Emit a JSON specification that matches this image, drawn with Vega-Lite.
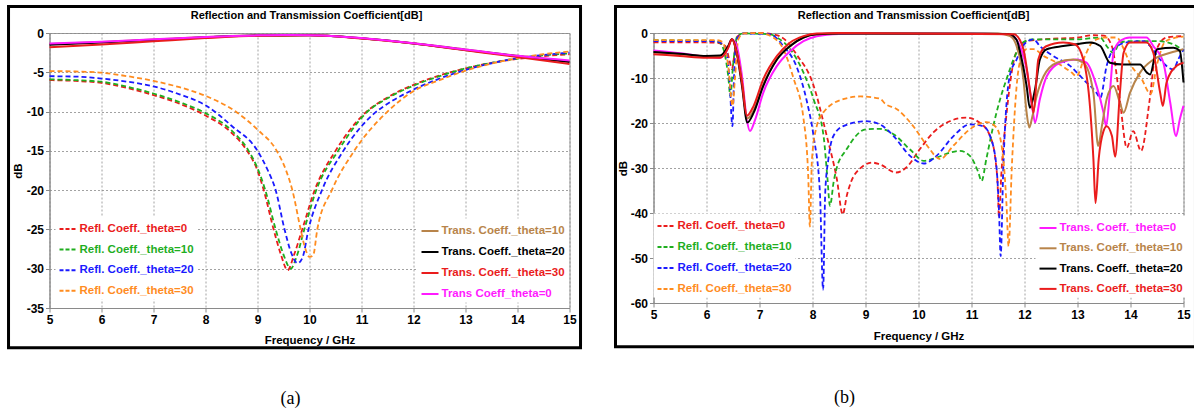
{
 "$schema": "https://vega.github.io/schema/vega-lite/v6.json",
 "background": "white",
 "padding": {"left": 6.5, "top": 4, "right": 0, "bottom": 0},
 "spacing": 29,
 "config": {
  "view": {"stroke": "#9a9a9a", "strokeWidth": 1},
  "axis": {"labelFont": "Liberation Sans", "labelFontWeight": "bold", "labelFontSize": 12, "labelColor": "#000", "titleFont": "Liberation Sans", "titleFontSize": 11.5, "titleFontWeight": "bold", "titleColor": "#000", "gridColor": "#8a8a8a", "gridDash": [2, 2], "gridWidth": 0.8, "domainColor": "#8a8a8a", "tickColor": "#8a8a8a", "tickSize": 4, "labelPadding": 2, "labelFlush": false, "labelOverlap": false},
  "legend": {"labelFont": "Liberation Sans", "labelFontSize": 11.5, "labelFontWeight": "bold", "symbolType": "stroke", "symbolSize": 289, "symbolStrokeWidth": 2, "labelOffset": 2, "padding": 3, "fillColor": "#ffffff", "labelLimit": 400},
  "title": {"font": "Liberation Sans", "fontSize": 11, "fontWeight": "bold", "color": "#000"},
  "line": {"interpolate": "monotone"}
 },
 "datasets": {
  "a_refl": [
   {"s":"Refl. Coeff._theta=0","f":5,"v":-6.0},{"s":"Refl. Coeff._theta=0","f":5.5,"v":-6.1},{"s":"Refl. Coeff._theta=0","f":6,"v":-6.35},{"s":"Refl. Coeff._theta=0","f":6.5,"v":-7.0},{"s":"Refl. Coeff._theta=0","f":7,"v":-7.9},{"s":"Refl. Coeff._theta=0","f":7.5,"v":-9.0},{"s":"Refl. Coeff._theta=0","f":8,"v":-10.5},{"s":"Refl. Coeff._theta=0","f":8.5,"v":-12.7},{"s":"Refl. Coeff._theta=0","f":8.8,"v":-15},{"s":"Refl. Coeff._theta=0","f":9,"v":-17.5},{"s":"Refl. Coeff._theta=0","f":9.12,"v":-20},{"s":"Refl. Coeff._theta=0","f":9.31,"v":-25},{"s":"Refl. Coeff._theta=0","f":9.45,"v":-28.2},{"s":"Refl. Coeff._theta=0","f":9.58,"v":-30.2},{"s":"Refl. Coeff._theta=0","f":9.7,"v":-28.3},{"s":"Refl. Coeff._theta=0","f":9.86,"v":-25},{"s":"Refl. Coeff._theta=0","f":10.1,"v":-20},{"s":"Refl. Coeff._theta=0","f":10.5,"v":-15},{"s":"Refl. Coeff._theta=0","f":11.05,"v":-10.3},{"s":"Refl. Coeff._theta=0","f":11.5,"v":-8.2},{"s":"Refl. Coeff._theta=0","f":12,"v":-6.6},{"s":"Refl. Coeff._theta=0","f":12.5,"v":-5.4},{"s":"Refl. Coeff._theta=0","f":13,"v":-4.5},{"s":"Refl. Coeff._theta=0","f":13.5,"v":-3.8},{"s":"Refl. Coeff._theta=0","f":14,"v":-3.3},{"s":"Refl. Coeff._theta=0","f":14.5,"v":-2.95},{"s":"Refl. Coeff._theta=0","f":15,"v":-2.7},
   {"s":"Refl. Coeff._theta=10","f":5,"v":-5.9},{"s":"Refl. Coeff._theta=10","f":5.5,"v":-6.0},{"s":"Refl. Coeff._theta=10","f":6,"v":-6.2},{"s":"Refl. Coeff._theta=10","f":6.5,"v":-6.85},{"s":"Refl. Coeff._theta=10","f":7,"v":-7.7},{"s":"Refl. Coeff._theta=10","f":7.5,"v":-8.8},{"s":"Refl. Coeff._theta=10","f":8,"v":-10.2},{"s":"Refl. Coeff._theta=10","f":8.5,"v":-12.4},{"s":"Refl. Coeff._theta=10","f":8.83,"v":-15},{"s":"Refl. Coeff._theta=10","f":9,"v":-17.2},{"s":"Refl. Coeff._theta=10","f":9.15,"v":-20},{"s":"Refl. Coeff._theta=10","f":9.35,"v":-25},{"s":"Refl. Coeff._theta=10","f":9.5,"v":-28.2},{"s":"Refl. Coeff._theta=10","f":9.64,"v":-30.0},{"s":"Refl. Coeff._theta=10","f":9.75,"v":-28.5},{"s":"Refl. Coeff._theta=10","f":9.9,"v":-25},{"s":"Refl. Coeff._theta=10","f":10.13,"v":-20},{"s":"Refl. Coeff._theta=10","f":10.55,"v":-15},{"s":"Refl. Coeff._theta=10","f":11.1,"v":-10.1},{"s":"Refl. Coeff._theta=10","f":11.5,"v":-8.3},{"s":"Refl. Coeff._theta=10","f":12,"v":-6.7},{"s":"Refl. Coeff._theta=10","f":12.5,"v":-5.5},{"s":"Refl. Coeff._theta=10","f":13,"v":-4.5},{"s":"Refl. Coeff._theta=10","f":13.5,"v":-3.8},{"s":"Refl. Coeff._theta=10","f":14,"v":-3.25},{"s":"Refl. Coeff._theta=10","f":14.5,"v":-2.85},{"s":"Refl. Coeff._theta=10","f":15,"v":-2.6},
   {"s":"Refl. Coeff._theta=20","f":5,"v":-5.5},{"s":"Refl. Coeff._theta=20","f":5.5,"v":-5.55},{"s":"Refl. Coeff._theta=20","f":6,"v":-5.8},{"s":"Refl. Coeff._theta=20","f":6.5,"v":-6.2},{"s":"Refl. Coeff._theta=20","f":7,"v":-6.8},{"s":"Refl. Coeff._theta=20","f":7.5,"v":-7.8},{"s":"Refl. Coeff._theta=20","f":8,"v":-9.2},{"s":"Refl. Coeff._theta=20","f":8.5,"v":-11.8},{"s":"Refl. Coeff._theta=20","f":9,"v":-15},{"s":"Refl. Coeff._theta=20","f":9.2,"v":-17.5},{"s":"Refl. Coeff._theta=20","f":9.35,"v":-20},{"s":"Refl. Coeff._theta=20","f":9.52,"v":-25},{"s":"Refl. Coeff._theta=20","f":9.65,"v":-28},{"s":"Refl. Coeff._theta=20","f":9.77,"v":-29.3},{"s":"Refl. Coeff._theta=20","f":9.87,"v":-28.5},{"s":"Refl. Coeff._theta=20","f":9.98,"v":-25},{"s":"Refl. Coeff._theta=20","f":10.24,"v":-20},{"s":"Refl. Coeff._theta=20","f":10.65,"v":-15},{"s":"Refl. Coeff._theta=20","f":11.2,"v":-10.5},{"s":"Refl. Coeff._theta=20","f":11.6,"v":-8.6},{"s":"Refl. Coeff._theta=20","f":12,"v":-7.2},{"s":"Refl. Coeff._theta=20","f":12.5,"v":-5.8},{"s":"Refl. Coeff._theta=20","f":13,"v":-4.7},{"s":"Refl. Coeff._theta=20","f":13.5,"v":-3.85},{"s":"Refl. Coeff._theta=20","f":14,"v":-3.2},{"s":"Refl. Coeff._theta=20","f":14.5,"v":-2.8},{"s":"Refl. Coeff._theta=20","f":15,"v":-2.5},
   {"s":"Refl. Coeff._theta=30","f":5,"v":-4.85},{"s":"Refl. Coeff._theta=30","f":5.5,"v":-4.9},{"s":"Refl. Coeff._theta=30","f":6,"v":-5.05},{"s":"Refl. Coeff._theta=30","f":6.5,"v":-5.5},{"s":"Refl. Coeff._theta=30","f":7,"v":-6.1},{"s":"Refl. Coeff._theta=30","f":7.5,"v":-6.9},{"s":"Refl. Coeff._theta=30","f":8,"v":-8.0},{"s":"Refl. Coeff._theta=30","f":8.58,"v":-10},{"s":"Refl. Coeff._theta=30","f":9,"v":-12.3},{"s":"Refl. Coeff._theta=30","f":9.37,"v":-15},{"s":"Refl. Coeff._theta=30","f":9.55,"v":-17.5},{"s":"Refl. Coeff._theta=30","f":9.67,"v":-20},{"s":"Refl. Coeff._theta=30","f":9.83,"v":-25},{"s":"Refl. Coeff._theta=30","f":9.9,"v":-27},{"s":"Refl. Coeff._theta=30","f":10,"v":-28.5},{"s":"Refl. Coeff._theta=30","f":10.07,"v":-28.3},{"s":"Refl. Coeff._theta=30","f":10.15,"v":-25},{"s":"Refl. Coeff._theta=30","f":10.43,"v":-20},{"s":"Refl. Coeff._theta=30","f":10.86,"v":-15},{"s":"Refl. Coeff._theta=30","f":11.5,"v":-10},{"s":"Refl. Coeff._theta=30","f":12,"v":-7.4},{"s":"Refl. Coeff._theta=30","f":12.5,"v":-6.0},{"s":"Refl. Coeff._theta=30","f":13,"v":-4.8},{"s":"Refl. Coeff._theta=30","f":13.5,"v":-3.9},{"s":"Refl. Coeff._theta=30","f":14,"v":-3.2},{"s":"Refl. Coeff._theta=30","f":14.5,"v":-2.7},{"s":"Refl. Coeff._theta=30","f":15,"v":-2.35}
  ],
  "a_trans": [
   {"s":"Trans. Coeff._theta=10","f":5,"v":-1.4},{"s":"Trans. Coeff._theta=10","f":6,"v":-1.15},{"s":"Trans. Coeff._theta=10","f":7,"v":-0.83},{"s":"Trans. Coeff._theta=10","f":8,"v":-0.52},{"s":"Trans. Coeff._theta=10","f":9,"v":-0.3},{"s":"Trans. Coeff._theta=10","f":10,"v":-0.28},{"s":"Trans. Coeff._theta=10","f":11,"v":-0.66},{"s":"Trans. Coeff._theta=10","f":12,"v":-1.3},{"s":"Trans. Coeff._theta=10","f":13,"v":-2.1},{"s":"Trans. Coeff._theta=10","f":14,"v":-2.9},{"s":"Trans. Coeff._theta=10","f":15,"v":-3.6},
   {"s":"Trans. Coeff._theta=20","f":5,"v":-1.5},{"s":"Trans. Coeff._theta=20","f":6,"v":-1.2},{"s":"Trans. Coeff._theta=20","f":7,"v":-0.88},{"s":"Trans. Coeff._theta=20","f":8,"v":-0.55},{"s":"Trans. Coeff._theta=20","f":9,"v":-0.32},{"s":"Trans. Coeff._theta=20","f":10,"v":-0.3},{"s":"Trans. Coeff._theta=20","f":11,"v":-0.68},{"s":"Trans. Coeff._theta=20","f":12,"v":-1.33},{"s":"Trans. Coeff._theta=20","f":13,"v":-2.15},{"s":"Trans. Coeff._theta=20","f":14,"v":-2.95},{"s":"Trans. Coeff._theta=20","f":15,"v":-3.7},
   {"s":"Trans. Coeff._theta=30","f":5,"v":-1.8},{"s":"Trans. Coeff._theta=30","f":6,"v":-1.45},{"s":"Trans. Coeff._theta=30","f":7,"v":-1.05},{"s":"Trans. Coeff._theta=30","f":8,"v":-0.65},{"s":"Trans. Coeff._theta=30","f":9,"v":-0.35},{"s":"Trans. Coeff._theta=30","f":10,"v":-0.3},{"s":"Trans. Coeff._theta=30","f":11,"v":-0.7},{"s":"Trans. Coeff._theta=30","f":12,"v":-1.35},{"s":"Trans. Coeff._theta=30","f":13,"v":-2.2},{"s":"Trans. Coeff._theta=30","f":14,"v":-3.05},{"s":"Trans. Coeff._theta=30","f":15,"v":-3.95},
   {"s":"Trans Coeff_theta=0","f":5,"v":-1.35},{"s":"Trans Coeff_theta=0","f":6,"v":-1.1},{"s":"Trans Coeff_theta=0","f":7,"v":-0.8},{"s":"Trans Coeff_theta=0","f":8,"v":-0.5},{"s":"Trans Coeff_theta=0","f":9,"v":-0.3},{"s":"Trans Coeff_theta=0","f":9.5,"v":-0.25},{"s":"Trans Coeff_theta=0","f":10,"v":-0.28},{"s":"Trans Coeff_theta=0","f":10.5,"v":-0.4},{"s":"Trans Coeff_theta=0","f":11,"v":-0.65},{"s":"Trans Coeff_theta=0","f":11.5,"v":-0.95},{"s":"Trans Coeff_theta=0","f":12,"v":-1.3},{"s":"Trans Coeff_theta=0","f":12.5,"v":-1.7},{"s":"Trans Coeff_theta=0","f":13,"v":-2.1},{"s":"Trans Coeff_theta=0","f":13.5,"v":-2.5},{"s":"Trans Coeff_theta=0","f":14,"v":-2.9},{"s":"Trans Coeff_theta=0","f":14.5,"v":-3.2},{"s":"Trans Coeff_theta=0","f":15,"v":-3.5}
  ],
  "b_refl": [
   {"s":"Refl. Coeff._theta=0","f":5,"v":-2.1},{"s":"Refl. Coeff._theta=0","f":5.5,"v":-2.1},{"s":"Refl. Coeff._theta=0","f":6,"v":-2.1},{"s":"Refl. Coeff._theta=0","f":6.2,"v":-2.2},{"s":"Refl. Coeff._theta=0","f":6.35,"v":-2.8},{"s":"Refl. Coeff._theta=0","f":6.43,"v":-5.9},{"s":"Refl. Coeff._theta=0","f":6.48,"v":-8},{"s":"Refl. Coeff._theta=0","f":6.53,"v":-4.4},{"s":"Refl. Coeff._theta=0","f":6.58,"v":-0.8},{"s":"Refl. Coeff._theta=0","f":6.7,"v":-0.1},{"s":"Refl. Coeff._theta=0","f":7,"v":0},{"s":"Refl. Coeff._theta=0","f":7.3,"v":-0.4},{"s":"Refl. Coeff._theta=0","f":7.45,"v":-1.2},{"s":"Refl. Coeff._theta=0","f":7.7,"v":-4.8},{"s":"Refl. Coeff._theta=0","f":8,"v":-11},{"s":"Refl. Coeff._theta=0","f":8.27,"v":-22.9},{"s":"Refl. Coeff._theta=0","f":8.46,"v":-32.5},{"s":"Refl. Coeff._theta=0","f":8.57,"v":-40.3},{"s":"Refl. Coeff._theta=0","f":8.65,"v":-36},{"s":"Refl. Coeff._theta=0","f":8.73,"v":-33},{"s":"Refl. Coeff._theta=0","f":8.88,"v":-30.3},{"s":"Refl. Coeff._theta=0","f":9.13,"v":-28.8},{"s":"Refl. Coeff._theta=0","f":9.27,"v":-29.2},{"s":"Refl. Coeff._theta=0","f":9.58,"v":-31},{"s":"Refl. Coeff._theta=0","f":9.77,"v":-29.9},{"s":"Refl. Coeff._theta=0","f":10.02,"v":-25.9},{"s":"Refl. Coeff._theta=0","f":10.28,"v":-22.1},{"s":"Refl. Coeff._theta=0","f":10.59,"v":-19.6},{"s":"Refl. Coeff._theta=0","f":10.9,"v":-18.8},{"s":"Refl. Coeff._theta=0","f":11.15,"v":-19.9},{"s":"Refl. Coeff._theta=0","f":11.35,"v":-22.9},{"s":"Refl. Coeff._theta=0","f":11.45,"v":-28},{"s":"Refl. Coeff._theta=0","f":11.49,"v":-33},{"s":"Refl. Coeff._theta=0","f":11.52,"v":-41},{"s":"Refl. Coeff._theta=0","f":11.56,"v":-32},{"s":"Refl. Coeff._theta=0","f":11.67,"v":-17},{"s":"Refl. Coeff._theta=0","f":11.79,"v":-6.6},{"s":"Refl. Coeff._theta=0","f":11.91,"v":-2.9},{"s":"Refl. Coeff._theta=0","f":12.05,"v":-1.8},{"s":"Refl. Coeff._theta=0","f":12.5,"v":-1.3},{"s":"Refl. Coeff._theta=0","f":13,"v":-1.0},{"s":"Refl. Coeff._theta=0","f":13.3,"v":-0.5},{"s":"Refl. Coeff._theta=0","f":13.5,"v":-0.6},{"s":"Refl. Coeff._theta=0","f":13.65,"v":-3},{"s":"Refl. Coeff._theta=0","f":13.8,"v":-15},{"s":"Refl. Coeff._theta=0","f":13.93,"v":-25.5},{"s":"Refl. Coeff._theta=0","f":14.05,"v":-21.8},{"s":"Refl. Coeff._theta=0","f":14.2,"v":-26.2},{"s":"Refl. Coeff._theta=0","f":14.36,"v":-15},{"s":"Refl. Coeff._theta=0","f":14.48,"v":-4},{"s":"Refl. Coeff._theta=0","f":14.68,"v":-1.0},{"s":"Refl. Coeff._theta=0","f":15,"v":-0.7},
   {"s":"Refl. Coeff._theta=10","f":5,"v":-1.6},{"s":"Refl. Coeff._theta=10","f":6,"v":-1.7},{"s":"Refl. Coeff._theta=10","f":6.2,"v":-1.9},{"s":"Refl. Coeff._theta=10","f":6.28,"v":-2.5},{"s":"Refl. Coeff._theta=10","f":6.41,"v":-9.6},{"s":"Refl. Coeff._theta=10","f":6.45,"v":-14},{"s":"Refl. Coeff._theta=10","f":6.5,"v":-7.3},{"s":"Refl. Coeff._theta=10","f":6.58,"v":-0.7},{"s":"Refl. Coeff._theta=10","f":6.7,"v":-0.1},{"s":"Refl. Coeff._theta=10","f":7.2,"v":-0.3},{"s":"Refl. Coeff._theta=10","f":7.33,"v":-1.0},{"s":"Refl. Coeff._theta=10","f":7.58,"v":-3.6},{"s":"Refl. Coeff._theta=10","f":7.83,"v":-8.8},{"s":"Refl. Coeff._theta=10","f":8.02,"v":-14.7},{"s":"Refl. Coeff._theta=10","f":8.21,"v":-23},{"s":"Refl. Coeff._theta=10","f":8.28,"v":-32},{"s":"Refl. Coeff._theta=10","f":8.33,"v":-38.4},{"s":"Refl. Coeff._theta=10","f":8.4,"v":-33},{"s":"Refl. Coeff._theta=10","f":8.45,"v":-30.3},{"s":"Refl. Coeff._theta=10","f":8.64,"v":-25.9},{"s":"Refl. Coeff._theta=10","f":9.01,"v":-21.4},{"s":"Refl. Coeff._theta=10","f":9.27,"v":-21.3},{"s":"Refl. Coeff._theta=10","f":9.53,"v":-22.5},{"s":"Refl. Coeff._theta=10","f":9.84,"v":-25.9},{"s":"Refl. Coeff._theta=10","f":10.1,"v":-28.4},{"s":"Refl. Coeff._theta=10","f":10.34,"v":-27.7},{"s":"Refl. Coeff._theta=10","f":10.59,"v":-26.6},{"s":"Refl. Coeff._theta=10","f":10.78,"v":-26.2},{"s":"Refl. Coeff._theta=10","f":10.97,"v":-27.3},{"s":"Refl. Coeff._theta=10","f":11.13,"v":-31},{"s":"Refl. Coeff._theta=10","f":11.19,"v":-32.9},{"s":"Refl. Coeff._theta=10","f":11.28,"v":-28},{"s":"Refl. Coeff._theta=10","f":11.41,"v":-20.7},{"s":"Refl. Coeff._theta=10","f":11.54,"v":-14.7},{"s":"Refl. Coeff._theta=10","f":11.66,"v":-10.3},{"s":"Refl. Coeff._theta=10","f":11.82,"v":-5.1},{"s":"Refl. Coeff._theta=10","f":11.97,"v":-2.1},{"s":"Refl. Coeff._theta=10","f":12.15,"v":-1.4},{"s":"Refl. Coeff._theta=10","f":12.5,"v":-1.4},{"s":"Refl. Coeff._theta=10","f":13,"v":-1.4},{"s":"Refl. Coeff._theta=10","f":13.43,"v":-1.0},{"s":"Refl. Coeff._theta=10","f":13.55,"v":-2.9},{"s":"Refl. Coeff._theta=10","f":13.68,"v":-4.4},{"s":"Refl. Coeff._theta=10","f":13.8,"v":-2.1},{"s":"Refl. Coeff._theta=10","f":14,"v":-1.8},{"s":"Refl. Coeff._theta=10","f":14.5,"v":-1.8},{"s":"Refl. Coeff._theta=10","f":14.81,"v":-2.5},{"s":"Refl. Coeff._theta=10","f":15,"v":-4.0},
   {"s":"Refl. Coeff._theta=20","f":5,"v":-1.8},{"s":"Refl. Coeff._theta=20","f":6,"v":-1.8},{"s":"Refl. Coeff._theta=20","f":6.2,"v":-1.9},{"s":"Refl. Coeff._theta=20","f":6.34,"v":-2.9},{"s":"Refl. Coeff._theta=20","f":6.43,"v":-9.6},{"s":"Refl. Coeff._theta=20","f":6.49,"v":-20.7},{"s":"Refl. Coeff._theta=20","f":6.52,"v":-9.6},{"s":"Refl. Coeff._theta=20","f":6.57,"v":-1.4},{"s":"Refl. Coeff._theta=20","f":6.7,"v":-0.1},{"s":"Refl. Coeff._theta=20","f":7.2,"v":-0.3},{"s":"Refl. Coeff._theta=20","f":7.45,"v":-2.9},{"s":"Refl. Coeff._theta=20","f":7.7,"v":-7.5},{"s":"Refl. Coeff._theta=20","f":7.89,"v":-15},{"s":"Refl. Coeff._theta=20","f":8.02,"v":-22.9},{"s":"Refl. Coeff._theta=20","f":8.14,"v":-35.5},{"s":"Refl. Coeff._theta=20","f":8.2,"v":-57},{"s":"Refl. Coeff._theta=20","f":8.24,"v":-35.5},{"s":"Refl. Coeff._theta=20","f":8.3,"v":-28},{"s":"Refl. Coeff._theta=20","f":8.39,"v":-23},{"s":"Refl. Coeff._theta=20","f":8.58,"v":-20.7},{"s":"Refl. Coeff._theta=20","f":9.01,"v":-19.6},{"s":"Refl. Coeff._theta=20","f":9.27,"v":-20.3},{"s":"Refl. Coeff._theta=20","f":9.53,"v":-22.9},{"s":"Refl. Coeff._theta=20","f":9.84,"v":-27.3},{"s":"Refl. Coeff._theta=20","f":10.1,"v":-29},{"s":"Refl. Coeff._theta=20","f":10.34,"v":-27.3},{"s":"Refl. Coeff._theta=20","f":10.66,"v":-22.9},{"s":"Refl. Coeff._theta=20","f":10.97,"v":-20.3},{"s":"Refl. Coeff._theta=20","f":11.22,"v":-20.7},{"s":"Refl. Coeff._theta=20","f":11.35,"v":-22.9},{"s":"Refl. Coeff._theta=20","f":11.47,"v":-29.6},{"s":"Refl. Coeff._theta=20","f":11.52,"v":-40},{"s":"Refl. Coeff._theta=20","f":11.55,"v":-49.6},{"s":"Refl. Coeff._theta=20","f":11.6,"v":-30},{"s":"Refl. Coeff._theta=20","f":11.72,"v":-9.6},{"s":"Refl. Coeff._theta=20","f":11.85,"v":-5.9},{"s":"Refl. Coeff._theta=20","f":11.97,"v":-2.9},{"s":"Refl. Coeff._theta=20","f":12.05,"v":-1.9},{"s":"Refl. Coeff._theta=20","f":12.17,"v":-1.4},{"s":"Refl. Coeff._theta=20","f":12.29,"v":-2.9},{"s":"Refl. Coeff._theta=20","f":12.54,"v":-5.1},{"s":"Refl. Coeff._theta=20","f":12.86,"v":-7.3},{"s":"Refl. Coeff._theta=20","f":13.11,"v":-10.3},{"s":"Refl. Coeff._theta=20","f":13.36,"v":-13.3},{"s":"Refl. Coeff._theta=20","f":13.43,"v":-14.4},{"s":"Refl. Coeff._theta=20","f":13.55,"v":-7.3},{"s":"Refl. Coeff._theta=20","f":13.68,"v":-3.6},{"s":"Refl. Coeff._theta=20","f":13.93,"v":-2.1},{"s":"Refl. Coeff._theta=20","f":14.24,"v":-1.8},{"s":"Refl. Coeff._theta=20","f":14.37,"v":-2.9},{"s":"Refl. Coeff._theta=20","f":14.56,"v":-5.9},{"s":"Refl. Coeff._theta=20","f":14.81,"v":-8.1},{"s":"Refl. Coeff._theta=20","f":14.9,"v":-5.9},{"s":"Refl. Coeff._theta=20","f":15,"v":-3.6},
   {"s":"Refl. Coeff._theta=30","f":5,"v":-1.6},{"s":"Refl. Coeff._theta=30","f":6,"v":-1.6},{"s":"Refl. Coeff._theta=30","f":6.19,"v":-1.6},{"s":"Refl. Coeff._theta=30","f":6.3,"v":-2},{"s":"Refl. Coeff._theta=30","f":6.41,"v":-7.3},{"s":"Refl. Coeff._theta=30","f":6.49,"v":-16.2},{"s":"Refl. Coeff._theta=30","f":6.54,"v":-9.6},{"s":"Refl. Coeff._theta=30","f":6.6,"v":-1.4},{"s":"Refl. Coeff._theta=30","f":6.7,"v":-0.1},{"s":"Refl. Coeff._theta=30","f":7,"v":0},{"s":"Refl. Coeff._theta=30","f":7.26,"v":-1.0},{"s":"Refl. Coeff._theta=30","f":7.45,"v":-3.6},{"s":"Refl. Coeff._theta=30","f":7.64,"v":-10},{"s":"Refl. Coeff._theta=30","f":7.83,"v":-19},{"s":"Refl. Coeff._theta=30","f":7.92,"v":-32},{"s":"Refl. Coeff._theta=30","f":7.95,"v":-43},{"s":"Refl. Coeff._theta=30","f":7.99,"v":-28},{"s":"Refl. Coeff._theta=30","f":8.08,"v":-20.7},{"s":"Refl. Coeff._theta=30","f":8.2,"v":-17.7},{"s":"Refl. Coeff._theta=30","f":8.58,"v":-14.7},{"s":"Refl. Coeff._theta=30","f":8.9,"v":-14.1},{"s":"Refl. Coeff._theta=30","f":9.28,"v":-14.6},{"s":"Refl. Coeff._theta=30","f":9.36,"v":-15.6},{"s":"Refl. Coeff._theta=30","f":9.6,"v":-17},{"s":"Refl. Coeff._theta=30","f":9.9,"v":-20.7},{"s":"Refl. Coeff._theta=30","f":10.16,"v":-25},{"s":"Refl. Coeff._theta=30","f":10.41,"v":-28},{"s":"Refl. Coeff._theta=30","f":10.66,"v":-25},{"s":"Refl. Coeff._theta=30","f":10.97,"v":-21.4},{"s":"Refl. Coeff._theta=30","f":11.28,"v":-19.8},{"s":"Refl. Coeff._theta=30","f":11.47,"v":-21},{"s":"Refl. Coeff._theta=30","f":11.6,"v":-28},{"s":"Refl. Coeff._theta=30","f":11.66,"v":-38},{"s":"Refl. Coeff._theta=30","f":11.7,"v":-47.4},{"s":"Refl. Coeff._theta=30","f":11.76,"v":-30},{"s":"Refl. Coeff._theta=30","f":11.85,"v":-12},{"s":"Refl. Coeff._theta=30","f":11.95,"v":-5},{"s":"Refl. Coeff._theta=30","f":12.04,"v":-3.6},{"s":"Refl. Coeff._theta=30","f":12.17,"v":-3.6},{"s":"Refl. Coeff._theta=30","f":12.36,"v":-5.1},{"s":"Refl. Coeff._theta=30","f":12.61,"v":-6.6},{"s":"Refl. Coeff._theta=30","f":12.89,"v":-8.8},{"s":"Refl. Coeff._theta=30","f":12.98,"v":-9.6},{"s":"Refl. Coeff._theta=30","f":13.14,"v":-5.1},{"s":"Refl. Coeff._theta=30","f":13.3,"v":-1.8},{"s":"Refl. Coeff._theta=30","f":13.52,"v":-1.0},{"s":"Refl. Coeff._theta=30","f":13.74,"v":-1.0},{"s":"Refl. Coeff._theta=30","f":13.85,"v":-3},{"s":"Refl. Coeff._theta=30","f":14,"v":-7},{"s":"Refl. Coeff._theta=30","f":14.2,"v":-10},{"s":"Refl. Coeff._theta=30","f":14.38,"v":-13.5},{"s":"Refl. Coeff._theta=30","f":14.5,"v":-7},{"s":"Refl. Coeff._theta=30","f":14.65,"v":-2},{"s":"Refl. Coeff._theta=30","f":14.8,"v":-1.2},{"s":"Refl. Coeff._theta=30","f":15,"v":-0.8}
  ],
  "b_trans": [
   {"s":"Trans. Coeff._theta=0","f":5,"v":-3.9},{"s":"Trans. Coeff._theta=0","f":5.5,"v":-4.5},{"s":"Trans. Coeff._theta=0","f":6,"v":-5.3},{"s":"Trans. Coeff._theta=0","f":6.26,"v":-5.5},{"s":"Trans. Coeff._theta=0","f":6.38,"v":-4.0},{"s":"Trans. Coeff._theta=0","f":6.48,"v":-1.4},{"s":"Trans. Coeff._theta=0","f":6.57,"v":-2.9},{"s":"Trans. Coeff._theta=0","f":6.67,"v":-9.6},{"s":"Trans. Coeff._theta=0","f":6.76,"v":-19.2},{"s":"Trans. Coeff._theta=0","f":6.82,"v":-21.8},{"s":"Trans. Coeff._theta=0","f":6.92,"v":-19.2},{"s":"Trans. Coeff._theta=0","f":7.07,"v":-13.3},{"s":"Trans. Coeff._theta=0","f":7.33,"v":-7.3},{"s":"Trans. Coeff._theta=0","f":7.58,"v":-4.0},{"s":"Trans. Coeff._theta=0","f":7.83,"v":-1.8},{"s":"Trans. Coeff._theta=0","f":8.08,"v":-0.7},{"s":"Trans. Coeff._theta=0","f":8.5,"v":-0.2},{"s":"Trans. Coeff._theta=0","f":9,"v":-0.1},{"s":"Trans. Coeff._theta=0","f":10,"v":-0.1},{"s":"Trans. Coeff._theta=0","f":11,"v":-0.1},{"s":"Trans. Coeff._theta=0","f":11.7,"v":-0.3},{"s":"Trans. Coeff._theta=0","f":11.85,"v":-1.5},{"s":"Trans. Coeff._theta=0","f":11.95,"v":-4},{"s":"Trans. Coeff._theta=0","f":12.04,"v":-8},{"s":"Trans. Coeff._theta=0","f":12.14,"v":-16},{"s":"Trans. Coeff._theta=0","f":12.2,"v":-19.9},{"s":"Trans. Coeff._theta=0","f":12.29,"v":-14.7},{"s":"Trans. Coeff._theta=0","f":12.42,"v":-9.6},{"s":"Trans. Coeff._theta=0","f":12.67,"v":-6.6},{"s":"Trans. Coeff._theta=0","f":12.98,"v":-5.9},{"s":"Trans. Coeff._theta=0","f":13.17,"v":-6.6},{"s":"Trans. Coeff._theta=0","f":13.36,"v":-11.8},{"s":"Trans. Coeff._theta=0","f":13.49,"v":-17.7},{"s":"Trans. Coeff._theta=0","f":13.54,"v":-20.7},{"s":"Trans. Coeff._theta=0","f":13.61,"v":-13.3},{"s":"Trans. Coeff._theta=0","f":13.68,"v":-4.4},{"s":"Trans. Coeff._theta=0","f":13.8,"v":-1.8},{"s":"Trans. Coeff._theta=0","f":13.99,"v":-1.0},{"s":"Trans. Coeff._theta=0","f":14.3,"v":-1.0},{"s":"Trans. Coeff._theta=0","f":14.43,"v":-2.9},{"s":"Trans. Coeff._theta=0","f":14.62,"v":-6.6},{"s":"Trans. Coeff._theta=0","f":14.75,"v":-15.5},{"s":"Trans. Coeff._theta=0","f":14.86,"v":-22.9},{"s":"Trans. Coeff._theta=0","f":14.93,"v":-19.2},{"s":"Trans. Coeff._theta=0","f":15,"v":-16.2},
   {"s":"Trans. Coeff._theta=10","f":5,"v":-4.3},{"s":"Trans. Coeff._theta=10","f":5.5,"v":-4.7},{"s":"Trans. Coeff._theta=10","f":6,"v":-5.1},{"s":"Trans. Coeff._theta=10","f":6.26,"v":-5.1},{"s":"Trans. Coeff._theta=10","f":6.41,"v":-3},{"s":"Trans. Coeff._theta=10","f":6.48,"v":-1.4},{"s":"Trans. Coeff._theta=10","f":6.57,"v":-4},{"s":"Trans. Coeff._theta=10","f":6.67,"v":-11},{"s":"Trans. Coeff._theta=10","f":6.77,"v":-19},{"s":"Trans. Coeff._theta=10","f":6.89,"v":-17.2},{"s":"Trans. Coeff._theta=10","f":7.07,"v":-11.5},{"s":"Trans. Coeff._theta=10","f":7.33,"v":-5.8},{"s":"Trans. Coeff._theta=10","f":7.58,"v":-2.8},{"s":"Trans. Coeff._theta=10","f":7.83,"v":-1.0},{"s":"Trans. Coeff._theta=10","f":8.08,"v":-0.3},{"s":"Trans. Coeff._theta=10","f":8.5,"v":-0.1},{"s":"Trans. Coeff._theta=10","f":11.5,"v":-0.1},{"s":"Trans. Coeff._theta=10","f":11.73,"v":-0.7},{"s":"Trans. Coeff._theta=10","f":11.85,"v":-2.9},{"s":"Trans. Coeff._theta=10","f":11.98,"v":-10.3},{"s":"Trans. Coeff._theta=10","f":12.04,"v":-17.7},{"s":"Trans. Coeff._theta=10","f":12.09,"v":-21},{"s":"Trans. Coeff._theta=10","f":12.14,"v":-19},{"s":"Trans. Coeff._theta=10","f":12.23,"v":-14},{"s":"Trans. Coeff._theta=10","f":12.36,"v":-9.6},{"s":"Trans. Coeff._theta=10","f":12.61,"v":-6.6},{"s":"Trans. Coeff._theta=10","f":12.92,"v":-5.9},{"s":"Trans. Coeff._theta=10","f":13.11,"v":-6.6},{"s":"Trans. Coeff._theta=10","f":13.3,"v":-13.3},{"s":"Trans. Coeff._theta=10","f":13.39,"v":-25.1},{"s":"Trans. Coeff._theta=10","f":13.46,"v":-20.7},{"s":"Trans. Coeff._theta=10","f":13.55,"v":-14.7},{"s":"Trans. Coeff._theta=10","f":13.68,"v":-11.8},{"s":"Trans. Coeff._theta=10","f":13.8,"v":-15.5},{"s":"Trans. Coeff._theta=10","f":13.87,"v":-17.7},{"s":"Trans. Coeff._theta=10","f":13.99,"v":-13.3},{"s":"Trans. Coeff._theta=10","f":14.18,"v":-8.8},{"s":"Trans. Coeff._theta=10","f":14.43,"v":-5.9},{"s":"Trans. Coeff._theta=10","f":14.75,"v":-4.4},{"s":"Trans. Coeff._theta=10","f":15,"v":-3.6},
   {"s":"Trans. Coeff._theta=20","f":5,"v":-4.2},{"s":"Trans. Coeff._theta=20","f":5.5,"v":-4.6},{"s":"Trans. Coeff._theta=20","f":6,"v":-5.1},{"s":"Trans. Coeff._theta=20","f":6.26,"v":-5.0},{"s":"Trans. Coeff._theta=20","f":6.41,"v":-2.9},{"s":"Trans. Coeff._theta=20","f":6.48,"v":-1.4},{"s":"Trans. Coeff._theta=20","f":6.57,"v":-4.4},{"s":"Trans. Coeff._theta=20","f":6.67,"v":-11.8},{"s":"Trans. Coeff._theta=20","f":6.77,"v":-19.9},{"s":"Trans. Coeff._theta=20","f":6.89,"v":-17.7},{"s":"Trans. Coeff._theta=20","f":7.07,"v":-11.8},{"s":"Trans. Coeff._theta=20","f":7.33,"v":-5.9},{"s":"Trans. Coeff._theta=20","f":7.58,"v":-2.9},{"s":"Trans. Coeff._theta=20","f":7.83,"v":-1.0},{"s":"Trans. Coeff._theta=20","f":8.08,"v":-0.3},{"s":"Trans. Coeff._theta=20","f":8.5,"v":-0.1},{"s":"Trans. Coeff._theta=20","f":11.7,"v":-0.2},{"s":"Trans. Coeff._theta=20","f":11.85,"v":-1.5},{"s":"Trans. Coeff._theta=20","f":11.92,"v":-4.4},{"s":"Trans. Coeff._theta=20","f":12.04,"v":-11.8},{"s":"Trans. Coeff._theta=20","f":12.1,"v":-16.6},{"s":"Trans. Coeff._theta=20","f":12.2,"v":-12.5},{"s":"Trans. Coeff._theta=20","f":12.29,"v":-5.9},{"s":"Trans. Coeff._theta=20","f":12.42,"v":-3.6},{"s":"Trans. Coeff._theta=20","f":12.73,"v":-2.9},{"s":"Trans. Coeff._theta=20","f":12.98,"v":-2.5},{"s":"Trans. Coeff._theta=20","f":13.24,"v":-2.1},{"s":"Trans. Coeff._theta=20","f":13.43,"v":-2.9},{"s":"Trans. Coeff._theta=20","f":13.61,"v":-6.6},{"s":"Trans. Coeff._theta=20","f":13.87,"v":-7.0},{"s":"Trans. Coeff._theta=20","f":14.18,"v":-7.0},{"s":"Trans. Coeff._theta=20","f":14.31,"v":-8.8},{"s":"Trans. Coeff._theta=20","f":14.37,"v":-9.2},{"s":"Trans. Coeff._theta=20","f":14.5,"v":-3.6},{"s":"Trans. Coeff._theta=20","f":14.81,"v":-3.3},{"s":"Trans. Coeff._theta=20","f":14.93,"v":-4.0},{"s":"Trans. Coeff._theta=20","f":15,"v":-11},
   {"s":"Trans. Coeff._theta=30","f":5,"v":-4.7},{"s":"Trans. Coeff._theta=30","f":5.5,"v":-5.1},{"s":"Trans. Coeff._theta=30","f":6,"v":-5.5},{"s":"Trans. Coeff._theta=30","f":6.26,"v":-5.5},{"s":"Trans. Coeff._theta=30","f":6.41,"v":-3.3},{"s":"Trans. Coeff._theta=30","f":6.48,"v":-1.4},{"s":"Trans. Coeff._theta=30","f":6.57,"v":-4.4},{"s":"Trans. Coeff._theta=30","f":6.67,"v":-11},{"s":"Trans. Coeff._theta=30","f":6.76,"v":-18.4},{"s":"Trans. Coeff._theta=30","f":6.89,"v":-16.2},{"s":"Trans. Coeff._theta=30","f":7.07,"v":-10.3},{"s":"Trans. Coeff._theta=30","f":7.33,"v":-5.1},{"s":"Trans. Coeff._theta=30","f":7.58,"v":-2.1},{"s":"Trans. Coeff._theta=30","f":7.83,"v":-0.7},{"s":"Trans. Coeff._theta=30","f":8.08,"v":-0.1},{"s":"Trans. Coeff._theta=30","f":8.5,"v":0},{"s":"Trans. Coeff._theta=30","f":11.8,"v":-0.3},{"s":"Trans. Coeff._theta=30","f":11.91,"v":-1.5},{"s":"Trans. Coeff._theta=30","f":11.98,"v":-3.6},{"s":"Trans. Coeff._theta=30","f":12.11,"v":-13.3},{"s":"Trans. Coeff._theta=30","f":12.17,"v":-17.7},{"s":"Trans. Coeff._theta=30","f":12.26,"v":-5.9},{"s":"Trans. Coeff._theta=30","f":12.4,"v":-3},{"s":"Trans. Coeff._theta=30","f":12.73,"v":-2.1},{"s":"Trans. Coeff._theta=30","f":12.95,"v":-2.5},{"s":"Trans. Coeff._theta=30","f":13.11,"v":-5.9},{"s":"Trans. Coeff._theta=30","f":13.24,"v":-17},{"s":"Trans. Coeff._theta=30","f":13.3,"v":-28},{"s":"Trans. Coeff._theta=30","f":13.34,"v":-37.8},{"s":"Trans. Coeff._theta=30","f":13.4,"v":-28},{"s":"Trans. Coeff._theta=30","f":13.49,"v":-21.8},{"s":"Trans. Coeff._theta=30","f":13.55,"v":-20.7},{"s":"Trans. Coeff._theta=30","f":13.65,"v":-22.9},{"s":"Trans. Coeff._theta=30","f":13.71,"v":-27.5},{"s":"Trans. Coeff._theta=30","f":13.8,"v":-13.3},{"s":"Trans. Coeff._theta=30","f":13.87,"v":-4.4},{"s":"Trans. Coeff._theta=30","f":13.99,"v":-2.1},{"s":"Trans. Coeff._theta=30","f":14.3,"v":-2.1},{"s":"Trans. Coeff._theta=30","f":14.43,"v":-4.4},{"s":"Trans. Coeff._theta=30","f":14.56,"v":-13.3},{"s":"Trans. Coeff._theta=30","f":14.61,"v":-16.2},{"s":"Trans. Coeff._theta=30","f":14.68,"v":-11},{"s":"Trans. Coeff._theta=30","f":14.87,"v":-7.3},{"s":"Trans. Coeff._theta=30","f":15,"v":-6.6}
  ]
 },
 "hconcat": [
  {
   "title": {"text": "(a)", "orient": "bottom", "anchor": "middle", "frame": "bounds", "offset": 40, "dx": -4, "font": "Liberation Serif", "fontSize": 18, "fontWeight": "normal", "color": "#000"},
   "vconcat": [{
    "width": 520, "height": 275,
    "title": {"text": "Reflection and Transmission Coefficient[dB]", "frame": "group", "anchor": "middle", "offset": -16, "dx": -3},
    "resolve": {"scale": {"color": "independent"}},
    "layer": [
     {"data": {"name": "a_refl"}, "mark": {"type": "line", "strokeDash": [5, 3], "strokeWidth": 1.8},
      "encoding": {
       "x": {"field": "f", "type": "quantitative", "scale": {"domain": [5, 15], "nice": false, "zero": false}, "axis": {"title": "Frequency / GHz", "values": [5, 6, 7, 8, 9, 10, 11, 12, 13, 14, 15], "titlePadding": 9}},
       "y": {"field": "v", "type": "quantitative", "scale": {"domain": [-35, 0], "nice": false, "zero": false}, "axis": {"title": "dB", "values": [-35, -30, -25, -20, -15, -10, -5, 0], "titlePadding": 3, "labelExpr": "datum.value < 0 ? '-' + abs(datum.value) : '' + datum.value"}},
       "color": {"field": "s", "type": "nominal",
        "scale": {"domain": ["Refl. Coeff._theta=0", "Refl. Coeff._theta=10", "Refl. Coeff._theta=20", "Refl. Coeff._theta=30"], "range": ["#ea1c1c", "#1fae1f", "#1a1aff", "#ff8c1f"]},
        "legend": {"title": null, "orient": "none", "legendX": 6, "legendY": 183.5, "symbolDash": [4, 2], "rowPadding": 5.6,
         "encode": {"labels": {"update": {"fill": {"signal": "datum.value==='Refl. Coeff._theta=0'?'#ea1c1c':datum.value==='Refl. Coeff._theta=10'?'#1fae1f':datum.value==='Refl. Coeff._theta=20'?'#1a1aff':'#ff8c1f'"}}}}}}
      }},
     {"data": {"name": "a_trans"}, "mark": {"type": "line", "strokeWidth": 2},
      "encoding": {
       "x": {"field": "f", "type": "quantitative", "axis": {"title": "Frequency / GHz", "values": [5, 6, 7, 8, 9, 10, 11, 12, 13, 14, 15], "titlePadding": 9}},
       "y": {"field": "v", "type": "quantitative", "axis": {"title": "dB", "values": [-35, -30, -25, -20, -15, -10, -5, 0], "titlePadding": 3, "labelExpr": "datum.value < 0 ? '-' + abs(datum.value) : '' + datum.value"}},
       "color": {"field": "s", "type": "nominal",
        "scale": {"domain": ["Trans. Coeff._theta=10", "Trans. Coeff._theta=20", "Trans. Coeff._theta=30", "Trans Coeff_theta=0"], "range": ["#b8844a", "#000000", "#ea1c1c", "#ff1aff"]},
        "legend": {"title": null, "orient": "none", "legendX": 368, "legendY": 185.5, "rowPadding": 6,
         "encode": {"labels": {"update": {"fill": {"signal": "datum.value==='Trans. Coeff._theta=10'?'#b8844a':datum.value==='Trans. Coeff._theta=20'?'#000000':datum.value==='Trans. Coeff._theta=30'?'#ea1c1c':'#ff1aff'"}}}}}}
      }},
     {"data": {"values": [{}]}, "mark": {"type": "rect", "fill": "#ffffff", "fillOpacity": 0, "stroke": "#000000", "strokeWidth": 3, "clip": false},
      "encoding": {
       "x": {"datum": 4.212, "type": "quantitative", "axis": {"title": "Frequency / GHz", "values": [5, 6, 7, 8, 9, 10, 11, 12, 13, 14, 15], "titlePadding": 9}},
       "x2": {"datum": 15.212},
       "y": {"datum": 3.373, "type": "quantitative", "axis": {"title": "dB", "values": [-35, -30, -25, -20, -15, -10, -5, 0], "titlePadding": 3, "labelExpr": "datum.value < 0 ? '-' + abs(datum.value) : '' + datum.value"}},
       "y2": {"datum": -40.05}}}
    ]
   }]
  },
  {
   "title": {"text": "(b)", "orient": "bottom", "anchor": "middle", "frame": "bounds", "offset": 40, "dx": -61, "font": "Liberation Serif", "fontSize": 18, "fontWeight": "normal", "color": "#000"},
   "vconcat": [{
    "width": 530, "height": 270,
    "title": {"text": "Reflection and Transmission Coefficient[dB]", "frame": "group", "anchor": "middle", "offset": -16, "dx": -5},
    "resolve": {"scale": {"color": "independent"}},
    "layer": [
     {"data": {"name": "b_refl"}, "mark": {"type": "line", "strokeDash": [5, 3], "strokeWidth": 1.8},
      "encoding": {
       "x": {"field": "f", "type": "quantitative", "scale": {"domain": [5, 15], "nice": false, "zero": false}, "axis": {"title": "Frequency / GHz", "values": [5, 6, 7, 8, 9, 10, 11, 12, 13, 14, 15], "titlePadding": 10}},
       "y": {"field": "v", "type": "quantitative", "scale": {"domain": [-60, 0], "nice": false, "zero": false}, "axis": {"title": "dB", "values": [-60, -50, -40, -30, -20, -10, 0], "titlePadding": 2, "labelExpr": "datum.value < 0 ? '-' + abs(datum.value) : '' + datum.value"}},
       "color": {"field": "s", "type": "nominal",
        "scale": {"domain": ["Refl. Coeff._theta=0", "Refl. Coeff._theta=10", "Refl. Coeff._theta=20", "Refl. Coeff._theta=30"], "range": ["#ea1c1c", "#1fae1f", "#1a1aff", "#ff8c1f"]},
        "legend": {"title": null, "orient": "none", "legendX": 0, "legendY": 180.5, "symbolDash": [4, 2], "rowPadding": 6,
         "encode": {"labels": {"update": {"fill": {"signal": "datum.value==='Refl. Coeff._theta=0'?'#ea1c1c':datum.value==='Refl. Coeff._theta=10'?'#1fae1f':datum.value==='Refl. Coeff._theta=20'?'#1a1aff':'#ff8c1f'"}}}}}}
      }},
     {"data": {"name": "b_trans"}, "mark": {"type": "line", "strokeWidth": 2},
      "encoding": {
       "x": {"field": "f", "type": "quantitative", "axis": {"title": "Frequency / GHz", "values": [5, 6, 7, 8, 9, 10, 11, 12, 13, 14, 15], "titlePadding": 10}},
       "y": {"field": "v", "type": "quantitative", "axis": {"title": "dB", "values": [-60, -50, -40, -30, -20, -10, 0], "titlePadding": 2, "labelExpr": "datum.value < 0 ? '-' + abs(datum.value) : '' + datum.value"}},
       "color": {"field": "s", "type": "nominal",
        "scale": {"domain": ["Trans. Coeff._theta=0", "Trans. Coeff._theta=10", "Trans. Coeff._theta=20", "Trans. Coeff._theta=30"], "range": ["#ff1aff", "#b8844a", "#000000", "#ea1c1c"]},
        "legend": {"title": null, "orient": "none", "legendX": 382, "legendY": 182.5, "rowPadding": 5.3,
         "encode": {"labels": {"update": {"fill": {"signal": "datum.value==='Trans. Coeff._theta=0'?'#ff1aff':datum.value==='Trans. Coeff._theta=10'?'#b8844a':datum.value==='Trans. Coeff._theta=20'?'#000000':'#ea1c1c'"}}}}}}
      }},
     {"data": {"values": [{}]}, "mark": {"type": "rect", "fill": "#ffffff", "fillOpacity": 0, "stroke": "#000000", "strokeWidth": 3, "clip": false},
      "encoding": {
       "x": {"datum": 4.283, "type": "quantitative", "axis": {"title": "Frequency / GHz", "values": [5, 6, 7, 8, 9, 10, 11, 12, 13, 14, 15], "titlePadding": 10}},
       "x2": {"datum": 15.226},
       "y": {"datum": 5.889, "type": "quantitative", "axis": {"title": "dB", "values": [-60, -50, -40, -30, -20, -10, 0], "titlePadding": 2, "labelExpr": "datum.value < 0 ? '-' + abs(datum.value) : '' + datum.value"}},
       "y2": {"datum": -69.7}}}
    ]
   }]
  }
 ]
}
